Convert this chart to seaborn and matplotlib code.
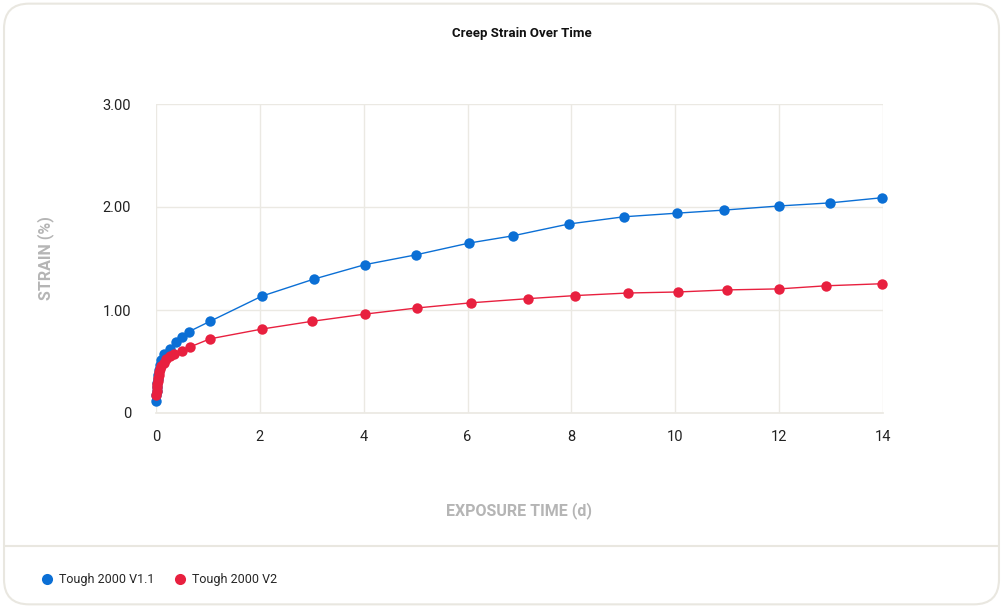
import matplotlib
matplotlib.use("Agg")
import matplotlib.pyplot as plt
from matplotlib.patches import FancyBboxPatch
from matplotlib.lines import Line2D
import seaborn as sns
import pandas as pd

# Data
v11_days = [0.0, 0.007, 0.014, 0.021, 0.028, 0.035, 0.042, 0.056, 0.07, 0.096, 0.154,
            0.27, 0.385, 0.5, 0.635, 1.04, 2.04, 3.04, 4.02, 5.0, 6.03, 6.87, 7.95,
            9.01, 10.03, 10.94, 12.0, 12.98, 13.98]
v11_strain = [0.12, 0.17, 0.21, 0.25, 0.29, 0.33, 0.37, 0.42, 0.47, 0.515, 0.57,
              0.62, 0.69, 0.74, 0.79, 0.89, 1.135, 1.30, 1.44, 1.535, 1.65, 1.72, 1.835,
              1.905, 1.94, 1.97, 2.01, 2.04, 2.09]

v2_days = [0.007, 0.014, 0.021, 0.028, 0.035, 0.042, 0.049, 0.056, 0.07, 0.1, 0.15,
           0.2, 0.27, 0.35, 0.5, 0.65, 1.04, 2.04, 3.0, 4.02, 5.03, 6.07, 7.16, 8.07,
           9.09, 10.05, 11.0, 12.0, 12.9, 13.98]
v2_strain = [0.17, 0.21, 0.25, 0.28, 0.31, 0.34, 0.37, 0.40, 0.43, 0.46, 0.49,
             0.52, 0.55, 0.57, 0.60, 0.64, 0.72, 0.815, 0.89, 0.96, 1.02, 1.07, 1.11, 1.14,
             1.165, 1.175, 1.195, 1.205, 1.235, 1.255]

series_names = ["Tough 2000 V1.1", "Tough 2000 V2"]
colors = {"Tough 2000 V1.1": "#0b6fd5", "Tough 2000 V2": "#e8203f"}

x_ticks = [0, 2, 4, 6, 8, 10, 12, 14]
y_ticks = [0, 1, 2, 3]
y_tick_labels = ["0", "1.00", "2.00", "3.00"]

df = pd.concat([
    pd.DataFrame({"days": v11_days, "strain": v11_strain, "series": series_names[0]}),
    pd.DataFrame({"days": v2_days, "strain": v2_strain, "series": series_names[1]}),
])

sns.set_theme(style="white")
plt.rcParams["font.family"] = ["Roboto", "DejaVu Sans"]

fig = plt.figure(figsize=(10.03, 6.08), dpi=100)

# card background with rounded border, kept behind the axes
card = FancyBboxPatch((0.004, 0.006), 0.992, 0.988, transform=fig.transFigure,
                      boxstyle="round,pad=0,rounding_size=0.025",
                      facecolor="white", edgecolor="#e9e7e0", linewidth=1.5,
                      mutation_aspect=1003 / 608, zorder=-10)
fig.patches.append(card)
fig.add_artist(Line2D([0.005, 0.995], [1 - 546 / 608] * 2, color="#e9e7e0",
                      linewidth=1.5, transform=fig.transFigure, zorder=-5))

ax = fig.add_axes([156 / 1003, 1 - 413 / 608, (883 - 156) / 1003, (413 - 104) / 608])
ax.set_facecolor("none")

sns.lineplot(data=df, x="days", y="strain", hue="series", palette=colors,
             marker="o", markersize=7.5, markeredgewidth=0, linewidth=1,
             sort=False, legend=False, ax=ax, clip_on=False)

ax.set_xlim(0, 14)
ax.set_ylim(0, 3)
ax.set_xticks(x_ticks)
ax.set_yticks(y_ticks)
ax.set_yticklabels(y_tick_labels)
ax.grid(True, color="#ebe9e3", linewidth=1)
ax.set_axisbelow(True)
for s in ["top", "right", "left"]:
    ax.spines[s].set_visible(False)
ax.spines["bottom"].set_color("#ebe9e3")
ax.tick_params(axis="both", length=0, labelsize=10.5, colors="#222222")
ax.tick_params(axis="x", pad=12)
ax.tick_params(axis="y", pad=18)

ax.set_xlabel("EXPOSURE TIME (d)", fontsize=11.5, fontweight="bold",
              color="#b5b5b5", labelpad=42)
ax.set_ylabel("STRAIN (%)", fontsize=11.5, fontweight="bold",
              color="#b5b5b5", labelpad=35)

fig.text(0.5205, 1 - 33 / 608, "Creep Strain Over Time", ha="center", va="center",
         fontsize=9.5, fontweight="bold", color="#111111")

handles = [Line2D([], [], linestyle="none", marker="o", markersize=8,
                  markeredgewidth=0, color=colors[n]) for n in series_names]
fig.legend(handles, series_names, loc="center left",
           bbox_to_anchor=(0.028, 1 - 580 / 608), ncol=2, frameon=False,
           fontsize=9, handletextpad=0.4, columnspacing=1.4, handlelength=1.2)

fig.savefig("out.png", dpi=100)
